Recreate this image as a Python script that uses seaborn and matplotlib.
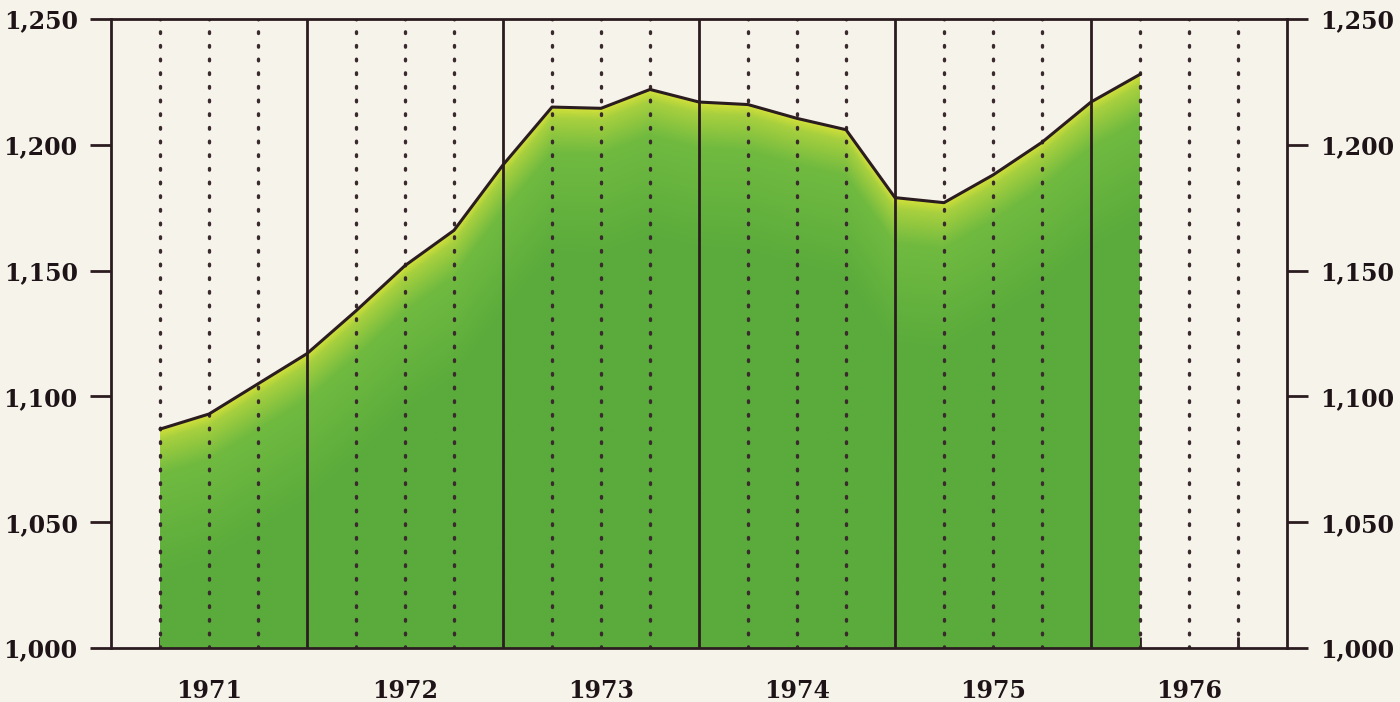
import numpy as np
import pandas as pd
import matplotlib
matplotlib.use("Agg")
import matplotlib.pyplot as plt
import seaborn as sns
from matplotlib.colors import LinearSegmentedColormap
from matplotlib.ticker import FuncFormatter

# ---- data (quarterly, position in fractional years) ----
quarter_pos = [1971.25, 1971.5, 1971.75, 1972.0, 1972.25, 1972.5, 1972.75,
               1973.0, 1973.25, 1973.5, 1973.75, 1974.0, 1974.25, 1974.5,
               1974.75, 1975.0, 1975.25, 1975.5, 1975.75, 1976.0, 1976.25]
values = [1087, 1093, 1105, 1117, 1134, 1152, 1166,
          1192, 1215, 1214.5, 1222, 1217, 1216, 1210.5,
          1206, 1179, 1177, 1188, 1201, 1217, 1228]
year_labels = ["1971", "1972", "1973", "1974", "1975", "1976"]
y_ticks = [1000, 1050, 1100, 1150, 1200, 1250]

df = pd.DataFrame({"t": quarter_pos, "v": values})

bg = "#f6f3ea"
dark = "#2b1c20"

sns.set_style("ticks")
plt.rcParams["font.family"] = ["DejaVu Serif"]
plt.rcParams["font.weight"] = "bold"

fig = plt.figure(figsize=(14, 7.02), dpi=100, facecolor=bg)
ax = fig.add_axes([111/1400, 54/702, (1287-111)/1400, (648-19)/702])
ax.set_facecolor(bg)

x0, x1 = 1971.0, 1977.0
ax.set_xlim(x0, x1)
ax.set_ylim(1000, 1250)

# gradient fill below the curve
poly = ax.fill_between(df["t"], 1000, df["v"], color="none", lw=0, zorder=1)
gx = np.linspace(df["t"].min(), df["t"].max(), 600)
gy = np.linspace(1000, 1250, 500)
GX, GY = np.meshgrid(gx, gy)
curve = np.interp(GX, df["t"], df["v"])
d = np.clip(curve - GY, 0, 60)
cmap = LinearSegmentedColormap.from_list(
    "g", [(0, "#d2e03a"), (0.07, "#a8d03e"), (0.3, "#70ba40"), (1.0, "#5aab3c")])
im = ax.imshow(d, extent=[gx[0], gx[-1], 1000, 1250], origin="lower",
               aspect="auto", cmap=cmap, vmin=0, vmax=60, zorder=1,
               interpolation="bilinear")
paths = poly.get_paths()
im.set_clip_path(paths[0], transform=ax.transData)

# grid lines: dotted at quarters, solid at year boundaries
for yr in range(1971, 1977):
    for q in (0.25, 0.5, 0.75):
        ax.axvline(yr + q, color="#3a2a2e", lw=2.4, ls=(0, (0.5, 3.6)),
                   dash_capstyle="round", zorder=2)
    if yr > 1971:
        ax.axvline(yr, color=dark, lw=2.0, zorder=3)

# curve line
sns.lineplot(data=df, x="t", y="v", ax=ax, color=dark, lw=2.2, zorder=4)

# axes styling
for s in ax.spines.values():
    s.set_color(dark)
    s.set_linewidth(2.0)
    s.set_zorder(5)

ax.set_yticks(y_ticks)
ax.yaxis.set_major_formatter(FuncFormatter(lambda v, p: f"{int(v):,}"))
ax.tick_params(axis="y", which="major", direction="out", length=15, width=2,
               color=dark, labelsize=17, labelcolor="#1e1418", pad=9,
               left=True, right=True, labelleft=True, labelright=True)

ax.set_xticks([y + 0.5 for y in range(1971, 1977)])
ax.set_xticklabels(year_labels)
ax.tick_params(axis="x", which="major", length=0, labelsize=17,
               labelcolor="#1e1418", pad=22)
ax.set_xticks([yr + q for yr in range(1971, 1977) for q in (0.25, 0.5, 0.75)],
              minor=True)
ax.tick_params(axis="x", which="minor", direction="in", length=8, width=2,
               color=dark)

ax.set_xlabel("")
ax.set_ylabel("")

fig.savefig("out.png", dpi=100, facecolor=bg)
